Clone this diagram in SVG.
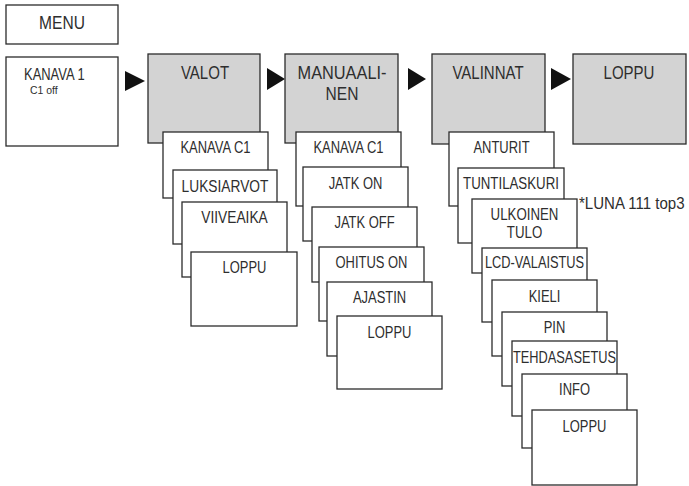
<svg xmlns="http://www.w3.org/2000/svg" width="689" height="486" viewBox="0 0 689 486">
<style>
rect{stroke:#2b2b2b;stroke-width:1.3}
.w{fill:#fff}
.g{fill:#d3d3d3}
text{font-family:"Liberation Sans",Arial,sans-serif;fill:#2e2e2e;text-anchor:middle}
.t{font-size:19px}
.s{font-size:16px}
.a{fill:#111}
</style>
<rect x="0" y="0" width="689" height="486" fill="#fff" style="stroke:none"/>
<g id="menu"><rect class="w" x="6" y="5" width="112" height="39"/><text class="t" transform="translate(62,28.5) scale(0.82 1)">MENU</text></g>
<g id="kanava1"><rect class="w" x="6" y="57" width="112" height="89"/>
<text class="s" style="text-anchor:start" transform="translate(24,80) scale(0.81 1)">KANAVA 1</text>
<text style="text-anchor:start;font-size:11px" transform="translate(30,94) scale(0.95 1)">C1  off</text></g>
<g id="connectors">
<polygon class="a" points="125,71 145,81 125,91"/>
<polygon class="a" points="267,68 285,79 267,90"/>
<polygon class="a" points="408,68 426,79 408,90"/>
<polygon class="a" points="551,68 571,79 551,90"/>
</g>
<g id="valot"><rect class="g" x="148" y="54" width="112" height="89"/><text class="t" transform="translate(205,78.5) scale(0.79 1)">VALOT</text></g>
<g id="manuaalinen"><rect class="g" x="285" y="54" width="113" height="89"/><text class="t" transform="translate(342,78.5) scale(0.86 1)">MANUAALI-</text><text class="t" transform="translate(342,100) scale(0.82 1)">NEN</text></g>
<g id="valinnat"><rect class="g" x="432" y="54" width="113" height="90"/><text class="t" transform="translate(488,78.5) scale(0.79 1)">VALINNAT</text></g>
<g id="loppu"><rect class="g" x="573" y="54" width="113" height="90"/><text class="t" transform="translate(629,78.5) scale(0.79 1)">LOPPU</text></g>

<g id="v1"><rect class="w" x="163" y="132" width="105" height="66"/><text class="s" transform="translate(215.5,153) scale(0.81 1)">KANAVA C1</text></g>
<g id="v2"><rect class="w" x="173" y="170" width="104" height="74"/><text class="s" transform="translate(225,192) scale(0.86 1)">LUKSIARVOT</text></g>
<g id="v3"><rect class="w" x="182" y="202" width="105" height="75"/><text class="s" transform="translate(234.5,223) scale(0.86 1)">VIIVEAIKA</text></g>
<g id="v4"><rect class="w" x="191" y="252" width="106" height="74"/><text class="s" transform="translate(244.5,273) scale(0.81 1)">LOPPU</text></g>

<g id="m1"><rect class="w" x="296" y="132" width="105" height="74"/><text class="s" transform="translate(348.5,153) scale(0.81 1)">KANAVA C1</text></g>
<g id="m2"><rect class="w" x="303" y="167" width="105" height="74"/><text class="s" transform="translate(355.5,189) scale(0.81 1)">JATK ON</text></g>
<g id="m3"><rect class="w" x="312" y="207" width="105" height="75"/><text class="s" transform="translate(364.5,228) scale(0.81 1)">JATK OFF</text></g>
<g id="m4"><rect class="w" x="319" y="247" width="105" height="74"/><text class="s" transform="translate(371.5,268) scale(0.81 1)">OHITUS ON</text></g>
<g id="m5"><rect class="w" x="327" y="282" width="105" height="74"/><text class="s" transform="translate(379.5,303) scale(0.81 1)">AJASTIN</text></g>
<g id="m6"><rect class="w" x="337" y="316" width="105" height="73"/><text class="s" transform="translate(389.5,338) scale(0.81 1)">LOPPU</text></g>

<g id="n1"><rect class="w" x="449" y="132" width="105" height="74"/><text class="s" transform="translate(501.5,153) scale(0.81 1)">ANTURIT</text></g>
<g id="n2"><rect class="w" x="458" y="168" width="106" height="75"/><text class="s" transform="translate(511,189) scale(0.83 1)">TUNTILASKURI</text></g>
<g id="n3"><rect class="w" x="472" y="199" width="105" height="74"/><text class="s" transform="translate(524.5,220) scale(0.83 1)">ULKOINEN</text><text class="s" transform="translate(524.5,238) scale(0.83 1)">TULO</text></g>
<text style="font-size:16px;text-anchor:start" transform="translate(579,209) scale(0.94 1)">*LUNA 111 top3</text>
<g id="n4"><rect class="w" x="482" y="248" width="105" height="74"/><text class="s" transform="translate(534.5,268) scale(0.8 1)">LCD-VALAISTUS</text></g>
<g id="n5"><rect class="w" x="492" y="280" width="105" height="76"/><text class="s" transform="translate(544.5,302) scale(0.81 1)">KIELI</text></g>
<g id="n6"><rect class="w" x="502" y="312" width="105" height="74"/><text class="s" transform="translate(554.5,333) scale(0.81 1)">PIN</text></g>
<g id="n7"><rect class="w" x="512" y="341" width="105" height="75"/><text class="s" transform="translate(564.5,363) scale(0.8 1)">TEHDASASETUS</text></g>
<g id="n8"><rect class="w" x="522" y="374" width="105" height="74"/><text class="s" transform="translate(574.5,395) scale(0.81 1)">INFO</text></g>
<g id="n9"><rect class="w" x="532" y="410" width="105" height="75"/><text class="s" transform="translate(584.5,432) scale(0.81 1)">LOPPU</text></g>
</svg>
